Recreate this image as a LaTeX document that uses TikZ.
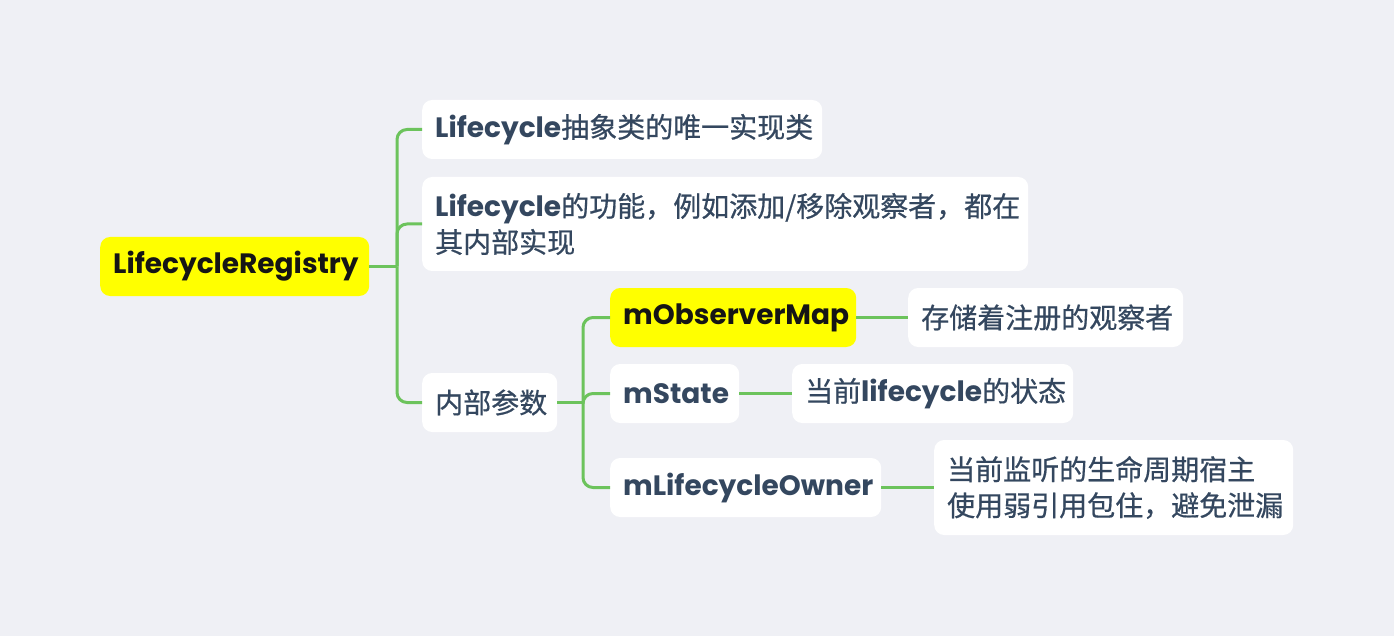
\documentclass[tikz,border=0pt]{standalone}
\usepackage{fontspec}
\setmainfont{Poppins}
\newfontfamily\cjk{Noto Sans CJK SC}[RawFeature={embolden=0.6}]
\definecolor{bg}{HTML}{EFF0F5}
\definecolor{txt}{HTML}{34475F}
\definecolor{dark}{HTML}{151515}
\definecolor{hl}{HTML}{FFFF00}
\definecolor{grn}{HTML}{6CC35C}
\newcommand{\la}[1]{{\bfseries #1}}
\newcommand{\zh}[1]{{\cjk #1}}
\tikzset{
  box/.style={rounded corners=10pt, fill=white, inner xsep=13pt, inner ysep=0pt,
    minimum height=59pt, anchor=west, align=left, text=txt, text width=#1,
    font=\fontsize{28}{36}\selectfont},
  hlbox/.style={box=#1, fill=hl, text=dark},
  link/.style={draw=grn, line width=3pt, rounded corners=10pt}
}
\begin{document}
\begin{tikzpicture}[x=1pt,y=-1pt]
\path[use as bounding box, fill=bg] (0,0) rectangle (1394,636);
% nodes
\node[hlbox=243pt] (root) at (100,266.5) {\la{LifecycleRegistry}};
\node[box=374pt] (a) at (422,129.5) {\la{Lifecycle}\zh{抽象类的唯一实现类}};
\node[box=580pt, minimum height=94pt] (b) at (422,224) {\la{Lifecycle}\zh{的功能，例如添加/移除观察者，都在}\\\zh{其内部实现}};
\node[box=109pt] (c) at (422,402.5) {\zh{内部参数}};
\node[hlbox=220pt] (obs) at (610,317.5) {\la{mObserverMap}};
\node[box=103pt] (st) at (610,393.5) {\la{mState}};
\node[box=245pt] (own) at (610,487.5) {\la{mLifecycleOwner}};
\node[box=249pt] (obsd) at (908,317.5) {\zh{存储着注册的观察者}};
\node[box=255pt] (std) at (792,393.5) {\zh{当前}\la{lifecycle}\zh{的状态}};
\node[box=333pt, minimum height=95pt] (ownd) at (934,487.5) {\zh{当前监听的生命周期宿主}\\\zh{使用弱引用包住，避免泄漏}};
% junctions
\coordinate (j1) at (397,266.5);
\coordinate (j2) at (583,402.5);
% connectors
\draw[link] (root.east) -- (j1);
\draw[link] (j1) |- (a.west);
\draw[link] (j1) |- (b.west);
\draw[link] (j1) |- (c.west);
\draw[link] (c.east) -- (j2);
\draw[link] (j2) |- (obs.west);
\draw[link] (j2) |- (st.west);
\draw[link] (j2) |- (own.west);
\draw[link] (obs.east) -- (obsd.west);
\draw[link] (st.east) -- (std.west);
\draw[link] (own.east) -- (ownd.west);
\end{tikzpicture}
\end{document}
